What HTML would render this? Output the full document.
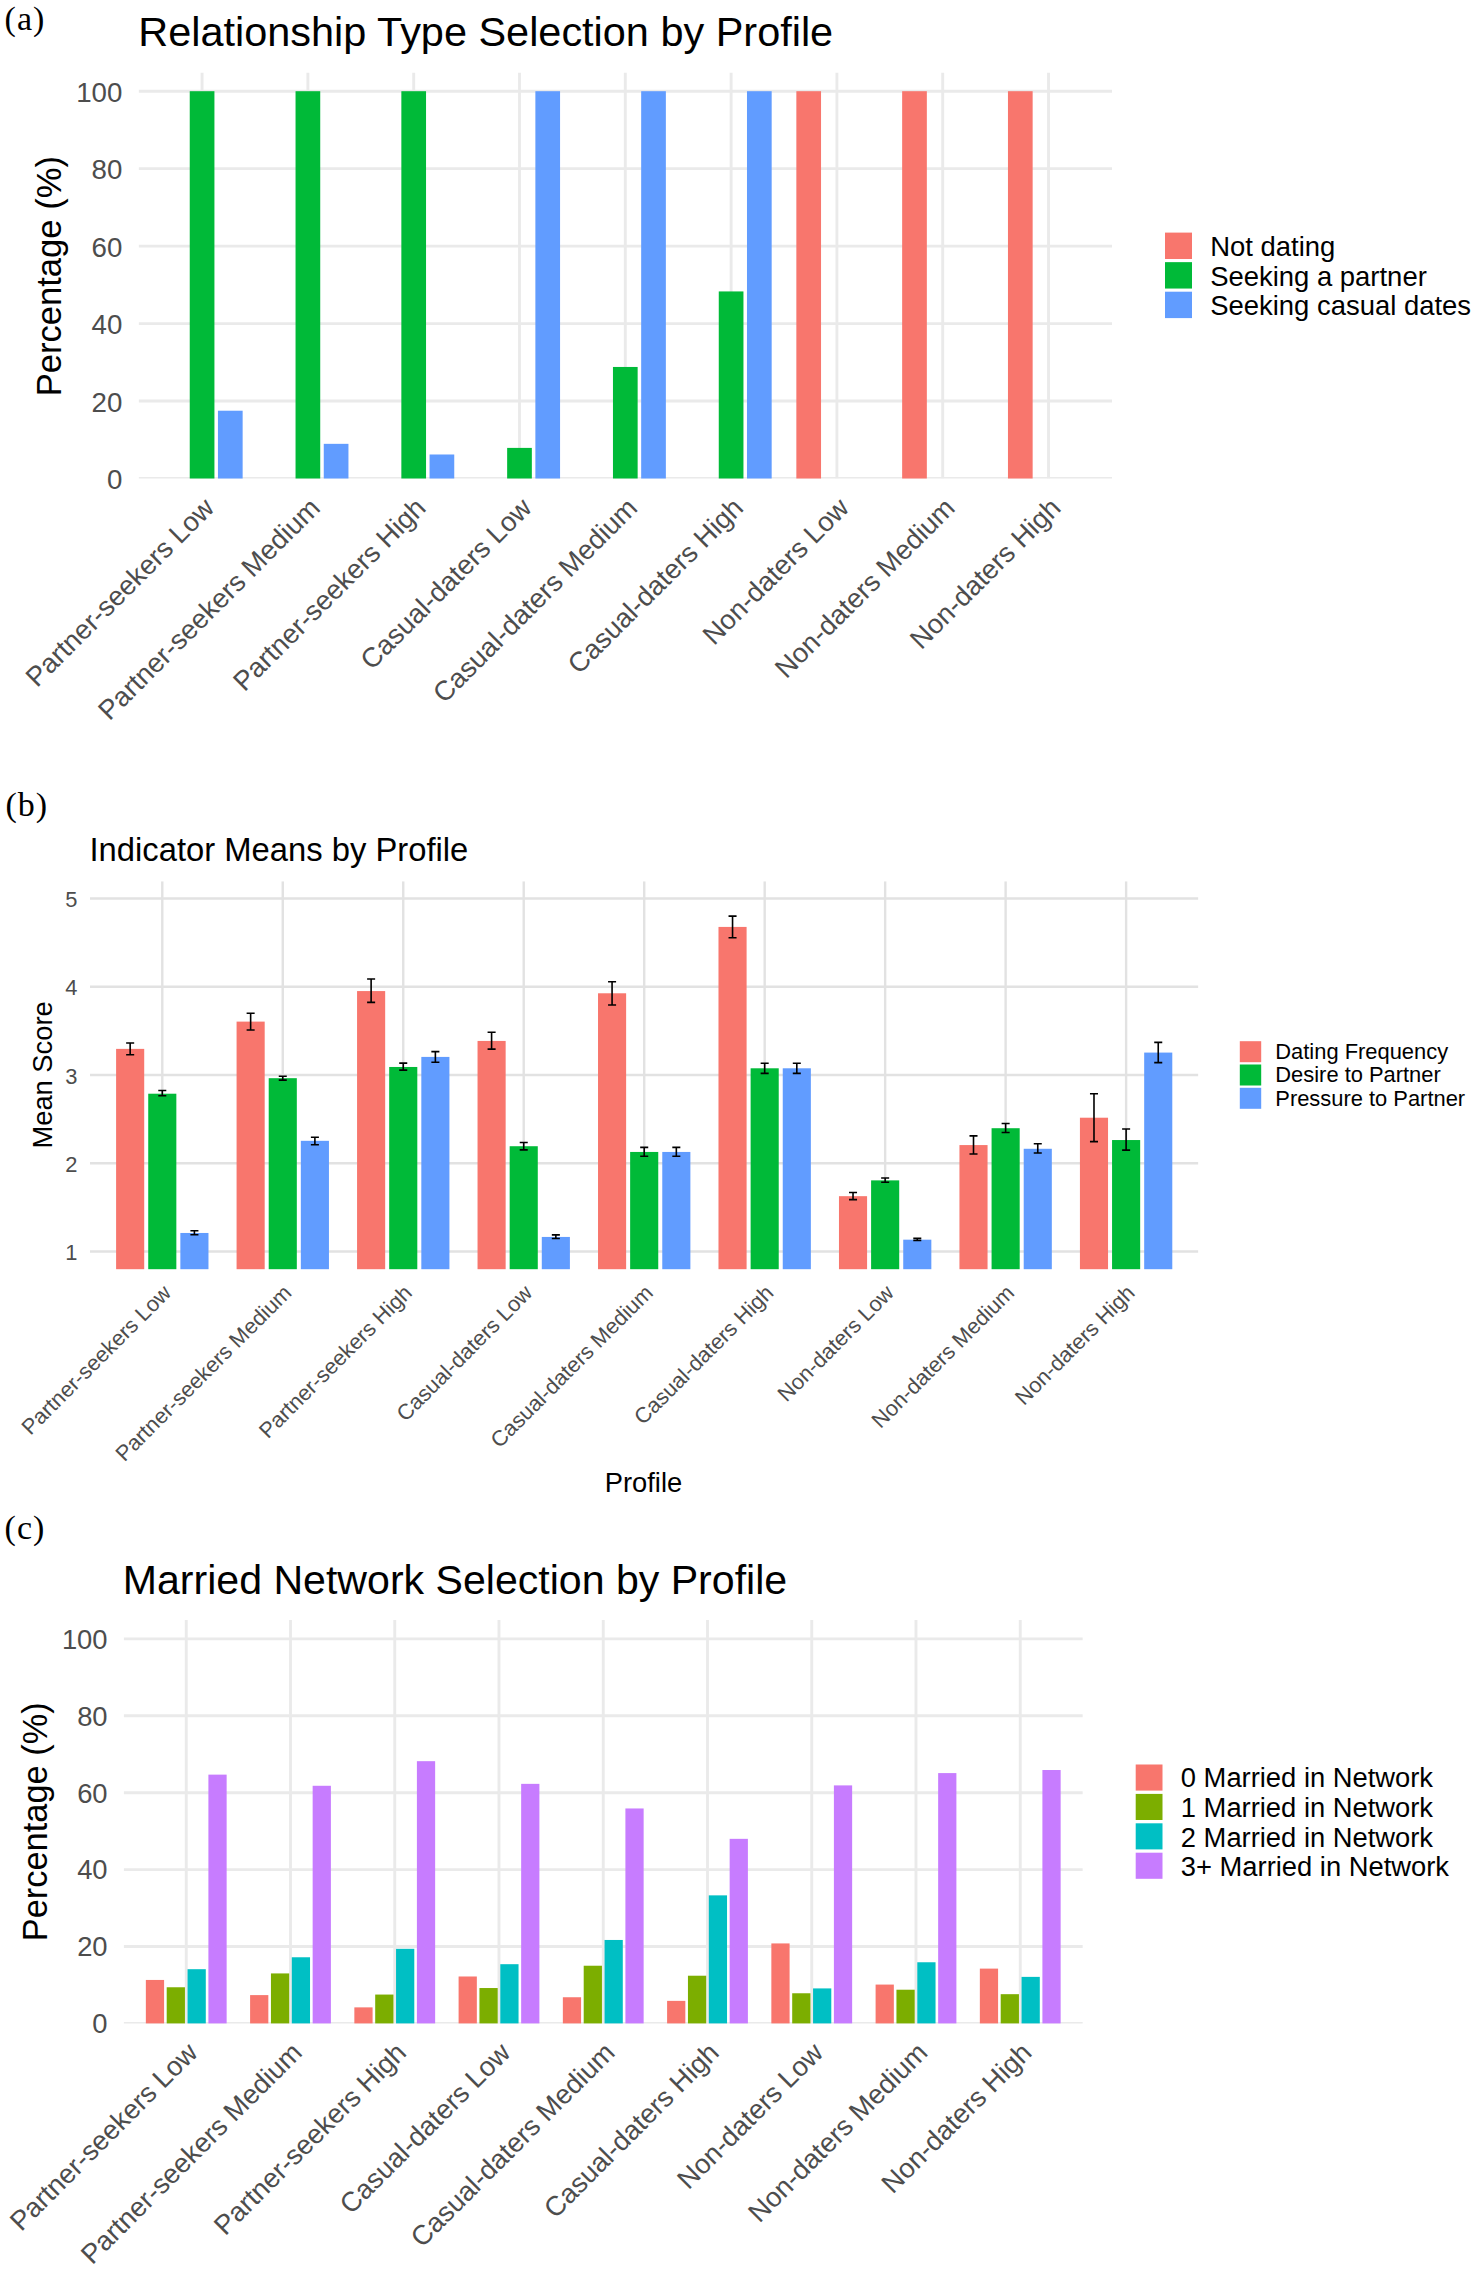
<!DOCTYPE html>
<html lang="en"><head><meta charset="utf-8"><title>Figure</title>
<style>html,body{margin:0;padding:0;background:#fff}svg{display:block}</style>
</head><body>
<svg width="1477" height="2270" viewBox="0 0 1477 2270" font-family="'Liberation Sans', sans-serif">
<rect width="1477" height="2270" fill="#fff"/>
<g font-family="'Liberation Serif', serif" font-size="34" letter-spacing="1" fill="#000">
<text x="4.6" y="29.6">(a)</text>
<text x="5.4" y="816.1">(b)</text>
<text x="4.6" y="1538.8">(c)</text>
</g>
<clipPath id="cpa"><rect x="138.6" y="72.4" width="973.4" height="406.1"/></clipPath>
<g stroke="#EAEAEA" stroke-width="2.9" fill="none" clip-path="url(#cpa)">
<path d="M138.6 478.5H1112"/>
<path d="M138.6 401.04H1112"/>
<path d="M138.6 323.58H1112"/>
<path d="M138.6 246.12H1112"/>
<path d="M138.6 168.66H1112"/>
<path d="M138.6 91.2H1112"/>
<path d="M202.08 72.4V478.5"/>
<path d="M307.89 72.4V478.5"/>
<path d="M413.69 72.4V478.5"/>
<path d="M519.5 72.4V478.5"/>
<path d="M625.3 72.4V478.5"/>
<path d="M731.1 72.4V478.5"/>
<path d="M836.91 72.4V478.5"/>
<path d="M942.71 72.4V478.5"/>
<path d="M1048.52 72.4V478.5"/>
</g>
<rect x="189.74" y="91.2" width="24.69" height="387.3" fill="#00BA38"/>
<rect x="217.95" y="410.72" width="24.69" height="67.78" fill="#619CFF"/>
<rect x="295.54" y="91.2" width="24.69" height="387.3" fill="#00BA38"/>
<rect x="323.76" y="443.84" width="24.69" height="34.66" fill="#619CFF"/>
<rect x="401.35" y="91.2" width="24.69" height="387.3" fill="#00BA38"/>
<rect x="429.56" y="454.49" width="24.69" height="24.01" fill="#619CFF"/>
<rect x="507.15" y="447.9" width="24.69" height="30.6" fill="#00BA38"/>
<rect x="535.37" y="91.2" width="24.69" height="387.3" fill="#619CFF"/>
<rect x="612.96" y="366.96" width="24.69" height="111.54" fill="#00BA38"/>
<rect x="641.17" y="91.2" width="24.69" height="387.3" fill="#619CFF"/>
<rect x="718.76" y="291.43" width="24.69" height="187.07" fill="#00BA38"/>
<rect x="746.98" y="91.2" width="24.69" height="387.3" fill="#619CFF"/>
<rect x="796.35" y="91.2" width="24.69" height="387.3" fill="#F8766D"/>
<rect x="902.15" y="91.2" width="24.69" height="387.3" fill="#F8766D"/>
<rect x="1007.96" y="91.2" width="24.69" height="387.3" fill="#F8766D"/>
<text x="138.3" y="46.3" font-size="41.45" fill="#000">Relationship Type Selection by Profile</text>
<g font-size="27.7" fill="#4D4D4D" text-anchor="end">
<text x="122.4" y="489">0</text>
<text x="122.4" y="411.54">20</text>
<text x="122.4" y="334.08">40</text>
<text x="122.4" y="256.62">60</text>
<text x="122.4" y="179.16">80</text>
<text x="122.4" y="101.7">100</text>
</g>
<g font-size="27.4" fill="#4D4D4D" text-anchor="end">
<text transform="translate(215.78 509.5) rotate(-45)">Partner-seekers Low</text>
<text transform="translate(321.59 509.5) rotate(-45)">Partner-seekers Medium</text>
<text transform="translate(427.39 509.5) rotate(-45)">Partner-seekers High</text>
<text transform="translate(533.2 509.5) rotate(-45)">Casual-daters Low</text>
<text transform="translate(639 509.5) rotate(-45)">Casual-daters Medium</text>
<text transform="translate(744.8 509.5) rotate(-45)">Casual-daters High</text>
<text transform="translate(850.61 509.5) rotate(-45)">Non-daters Low</text>
<text transform="translate(956.41 509.5) rotate(-45)">Non-daters Medium</text>
<text transform="translate(1062.22 509.5) rotate(-45)">Non-daters High</text>
</g>
<text transform="translate(61.1 276.2) rotate(-90)" text-anchor="middle" font-size="34.6" fill="#000">Percentage (%)</text>
<rect x="1165" y="232.6" width="27" height="26.4" fill="#F8766D"/>
<rect x="1165" y="262.15" width="27" height="26.4" fill="#00BA38"/>
<rect x="1165" y="291.7" width="27" height="26.4" fill="#619CFF"/>
<g font-size="27.45" fill="#000">
<text x="1210.2" y="256.2">Not dating</text>
<text x="1210.2" y="285.75">Seeking a partner</text>
<text x="1210.2" y="315.3">Seeking casual dates</text>
</g>
<clipPath id="cpb"><rect x="90" y="881.3" width="1108.4" height="387.9"/></clipPath>
<g stroke="#E2E2E2" stroke-width="2.4" fill="none" clip-path="url(#cpb)">
<path d="M90 1251.5H1198.4"/>
<path d="M90 1163.25H1198.4"/>
<path d="M90 1075H1198.4"/>
<path d="M90 986.75H1198.4"/>
<path d="M90 898.5H1198.4"/>
<path d="M162.29 881.3V1269.2"/>
<path d="M282.77 881.3V1269.2"/>
<path d="M403.24 881.3V1269.2"/>
<path d="M523.72 881.3V1269.2"/>
<path d="M644.2 881.3V1269.2"/>
<path d="M764.68 881.3V1269.2"/>
<path d="M885.16 881.3V1269.2"/>
<path d="M1005.63 881.3V1269.2"/>
<path d="M1126.11 881.3V1269.2"/>
</g>
<rect x="116.1" y="1048.88" width="28.11" height="220.32" fill="#F8766D"/>
<rect x="148.23" y="1093.71" width="28.11" height="175.49" fill="#00BA38"/>
<rect x="180.36" y="1232.97" width="28.11" height="36.23" fill="#619CFF"/>
<rect x="236.58" y="1021.61" width="28.11" height="247.59" fill="#F8766D"/>
<rect x="268.71" y="1078.18" width="28.11" height="191.02" fill="#00BA38"/>
<rect x="300.84" y="1140.83" width="28.11" height="128.37" fill="#619CFF"/>
<rect x="357.06" y="991.07" width="28.11" height="278.13" fill="#F8766D"/>
<rect x="389.19" y="1066.97" width="28.11" height="202.23" fill="#00BA38"/>
<rect x="421.32" y="1056.91" width="28.11" height="212.29" fill="#619CFF"/>
<rect x="477.54" y="1040.94" width="28.11" height="228.26" fill="#F8766D"/>
<rect x="509.67" y="1146.22" width="28.11" height="122.98" fill="#00BA38"/>
<rect x="541.79" y="1236.94" width="28.11" height="32.26" fill="#619CFF"/>
<rect x="598.02" y="993.28" width="28.11" height="275.92" fill="#F8766D"/>
<rect x="630.14" y="1151.95" width="28.11" height="117.25" fill="#00BA38"/>
<rect x="662.27" y="1151.95" width="28.11" height="117.25" fill="#619CFF"/>
<rect x="718.49" y="926.92" width="28.11" height="342.28" fill="#F8766D"/>
<rect x="750.62" y="1068.29" width="28.11" height="200.91" fill="#00BA38"/>
<rect x="782.75" y="1068.29" width="28.11" height="200.91" fill="#619CFF"/>
<rect x="838.97" y="1196.17" width="28.11" height="73.03" fill="#F8766D"/>
<rect x="871.1" y="1180.37" width="28.11" height="88.83" fill="#00BA38"/>
<rect x="903.23" y="1239.67" width="28.11" height="29.53" fill="#619CFF"/>
<rect x="959.45" y="1145.07" width="28.11" height="124.13" fill="#F8766D"/>
<rect x="991.58" y="1128.21" width="28.11" height="140.99" fill="#00BA38"/>
<rect x="1023.71" y="1148.78" width="28.11" height="120.42" fill="#619CFF"/>
<rect x="1079.93" y="1117.71" width="28.11" height="151.49" fill="#F8766D"/>
<rect x="1112.06" y="1140.04" width="28.11" height="129.16" fill="#00BA38"/>
<rect x="1144.18" y="1052.58" width="28.11" height="216.62" fill="#619CFF"/>
<g stroke="#000" stroke-width="1.6" fill="none">
<path d="M126.14 1042.97H134.18M130.16 1042.97V1054.79M126.14 1054.79H134.18"/>
<path d="M158.27 1090.44H166.3M162.29 1090.44V1095.74M158.27 1095.74H166.3"/>
<path d="M190.4 1230.76H198.43M194.41 1230.76V1234.73M190.4 1234.73H198.43"/>
<path d="M246.62 1013.23H254.65M250.64 1013.23V1029.99M246.62 1029.99H254.65"/>
<path d="M278.75 1076.32H286.78M282.77 1076.32V1080.12M278.75 1080.12H286.78"/>
<path d="M310.88 1137.22H318.91M314.89 1137.22V1144.72M310.88 1144.72H318.91"/>
<path d="M367.1 979.07H375.13M371.12 979.07V1002.37M367.1 1002.37H375.13"/>
<path d="M399.23 1063.09H407.26M403.24 1063.09V1070.15M399.23 1070.15H407.26"/>
<path d="M431.36 1051.61H439.39M435.37 1051.61V1062.2M431.36 1062.2H439.39"/>
<path d="M487.58 1032.29H495.61M491.59 1032.29V1049.14M487.58 1049.14H495.61"/>
<path d="M519.71 1142.51H527.74M523.72 1142.51V1149.84M519.71 1149.84H527.74"/>
<path d="M551.83 1234.91H559.87M555.85 1234.91V1238.44M551.83 1238.44H559.87"/>
<path d="M608.06 981.72H616.09M612.07 981.72V1005.02M608.06 1005.02H616.09"/>
<path d="M640.18 1147.37H648.22M644.2 1147.37V1156.19M640.18 1156.19H648.22"/>
<path d="M672.31 1147.37H680.34M676.33 1147.37V1156.19M672.31 1156.19H680.34"/>
<path d="M728.53 916.15H736.57M732.55 916.15V937.77M728.53 937.77H736.57"/>
<path d="M760.66 1063.26H768.69M764.68 1063.26V1073.41M760.66 1073.41H768.69"/>
<path d="M792.79 1063.26H800.82M796.81 1063.26V1073.41M792.79 1073.41H800.82"/>
<path d="M849.01 1192.46H857.04M853.03 1192.46V1199.61M849.01 1199.61H857.04"/>
<path d="M881.14 1177.99H889.17M885.16 1177.99V1182.22M881.14 1182.22H889.17"/>
<path d="M913.27 1238.35H921.3M917.28 1238.35V1240.47M913.27 1240.47H921.3"/>
<path d="M969.49 1135.89H977.52M973.51 1135.89V1154.07M969.49 1154.07H977.52"/>
<path d="M1001.62 1123.45H1009.65M1005.63 1123.45V1132.45M1001.62 1132.45H1009.65"/>
<path d="M1033.75 1143.75H1041.78M1037.76 1143.75V1153.01M1033.75 1153.01H1041.78"/>
<path d="M1089.97 1093.71H1098M1093.99 1093.71V1141.63M1089.97 1141.63H1098"/>
<path d="M1122.1 1129.01H1130.13M1126.11 1129.01V1150.1M1122.1 1150.1H1130.13"/>
<path d="M1154.22 1042.35H1162.26M1158.24 1042.35V1062.64M1154.22 1062.64H1162.26"/>
</g>
<text x="89.5" y="860.8" font-size="32.78" fill="#000">Indicator Means by Profile</text>
<g font-size="21.9" fill="#4D4D4D" text-anchor="end">
<text x="77.5" y="1260">1</text>
<text x="77.5" y="1171.75">2</text>
<text x="77.5" y="1083.5">3</text>
<text x="77.5" y="995.25">4</text>
<text x="77.5" y="907">5</text>
</g>
<g font-size="21.75" fill="#4D4D4D" text-anchor="end">
<text transform="translate(172.29 1294.2) rotate(-45)">Partner-seekers Low</text>
<text transform="translate(292.77 1294.2) rotate(-45)">Partner-seekers Medium</text>
<text transform="translate(413.24 1294.2) rotate(-45)">Partner-seekers High</text>
<text transform="translate(533.72 1294.2) rotate(-45)">Casual-daters Low</text>
<text transform="translate(654.2 1294.2) rotate(-45)">Casual-daters Medium</text>
<text transform="translate(774.68 1294.2) rotate(-45)">Casual-daters High</text>
<text transform="translate(895.16 1294.2) rotate(-45)">Non-daters Low</text>
<text transform="translate(1015.63 1294.2) rotate(-45)">Non-daters Medium</text>
<text transform="translate(1136.11 1294.2) rotate(-45)">Non-daters High</text>
</g>
<text transform="translate(52.4 1074.9) rotate(-90)" text-anchor="middle" font-size="27.3" fill="#000">Mean Score</text>
<text x="643.5" y="1491.7" text-anchor="middle" font-size="27.3" fill="#000">Profile</text>
<rect x="1239.8" y="1041.2" width="21.4" height="21" fill="#F8766D"/>
<rect x="1239.8" y="1064.5" width="21.4" height="21" fill="#00BA38"/>
<rect x="1239.8" y="1087.8" width="21.4" height="21" fill="#619CFF"/>
<g font-size="21.9" fill="#000">
<text x="1275.3" y="1058.5">Dating Frequency</text>
<text x="1275.3" y="1082.1">Desire to Partner</text>
<text x="1275.3" y="1105.7">Pressure to Partner</text>
</g>
<clipPath id="cpc"><rect x="123.7" y="1620" width="959.1" height="403.4"/></clipPath>
<g stroke="#EAEAEA" stroke-width="2.9" fill="none" clip-path="url(#cpc)">
<path d="M123.7 2023.4H1082.8"/>
<path d="M123.7 1946.5H1082.8"/>
<path d="M123.7 1869.6H1082.8"/>
<path d="M123.7 1792.7H1082.8"/>
<path d="M123.7 1715.8H1082.8"/>
<path d="M123.7 1638.9H1082.8"/>
<path d="M186.25 1620V2023.4"/>
<path d="M290.5 1620V2023.4"/>
<path d="M394.75 1620V2023.4"/>
<path d="M499 1620V2023.4"/>
<path d="M603.25 1620V2023.4"/>
<path d="M707.5 1620V2023.4"/>
<path d="M811.75 1620V2023.4"/>
<path d="M916 1620V2023.4"/>
<path d="M1020.25 1620V2023.4"/>
</g>
<rect x="145.85" y="1979.95" width="18.24" height="43.45" fill="#F8766D"/>
<rect x="166.7" y="1987.26" width="18.24" height="36.14" fill="#7CAE00"/>
<rect x="187.55" y="1969.19" width="18.24" height="54.21" fill="#00BFC4"/>
<rect x="208.4" y="1774.63" width="18.24" height="248.77" fill="#C77CFF"/>
<rect x="250.1" y="1995.1" width="18.24" height="28.3" fill="#F8766D"/>
<rect x="270.95" y="1973.42" width="18.24" height="49.98" fill="#7CAE00"/>
<rect x="291.8" y="1957.27" width="18.24" height="66.13" fill="#00BFC4"/>
<rect x="312.65" y="1785.78" width="18.24" height="237.62" fill="#C77CFF"/>
<rect x="354.35" y="2007.37" width="18.24" height="16.03" fill="#F8766D"/>
<rect x="375.2" y="1994.56" width="18.24" height="28.84" fill="#7CAE00"/>
<rect x="396.05" y="1948.81" width="18.24" height="74.59" fill="#00BFC4"/>
<rect x="416.9" y="1761.17" width="18.24" height="262.23" fill="#C77CFF"/>
<rect x="458.6" y="1976.49" width="18.24" height="46.91" fill="#F8766D"/>
<rect x="479.45" y="1988.03" width="18.24" height="35.37" fill="#7CAE00"/>
<rect x="500.3" y="1964.19" width="18.24" height="59.21" fill="#00BFC4"/>
<rect x="521.15" y="1783.86" width="18.24" height="239.54" fill="#C77CFF"/>
<rect x="562.85" y="1997.25" width="18.24" height="26.15" fill="#F8766D"/>
<rect x="583.7" y="1965.73" width="18.24" height="57.67" fill="#7CAE00"/>
<rect x="604.55" y="1939.96" width="18.24" height="83.44" fill="#00BFC4"/>
<rect x="625.4" y="1808.46" width="18.24" height="214.94" fill="#C77CFF"/>
<rect x="667.1" y="2000.87" width="18.24" height="22.53" fill="#F8766D"/>
<rect x="687.95" y="1975.72" width="18.24" height="47.68" fill="#7CAE00"/>
<rect x="708.8" y="1895.36" width="18.24" height="128.04" fill="#00BFC4"/>
<rect x="729.65" y="1838.84" width="18.24" height="184.56" fill="#C77CFF"/>
<rect x="771.35" y="1943.42" width="18.24" height="79.98" fill="#F8766D"/>
<rect x="792.2" y="1993.26" width="18.24" height="30.14" fill="#7CAE00"/>
<rect x="813.05" y="1988.41" width="18.24" height="34.99" fill="#00BFC4"/>
<rect x="833.9" y="1785.39" width="18.24" height="238.01" fill="#C77CFF"/>
<rect x="875.6" y="1984.57" width="18.24" height="38.83" fill="#F8766D"/>
<rect x="896.45" y="1989.72" width="18.24" height="33.68" fill="#7CAE00"/>
<rect x="917.3" y="1962.26" width="18.24" height="61.14" fill="#00BFC4"/>
<rect x="938.15" y="1773.09" width="18.24" height="250.31" fill="#C77CFF"/>
<rect x="979.85" y="1968.61" width="18.24" height="54.79" fill="#F8766D"/>
<rect x="1000.7" y="1994.18" width="18.24" height="29.22" fill="#7CAE00"/>
<rect x="1021.55" y="1976.88" width="18.24" height="46.52" fill="#00BFC4"/>
<rect x="1042.4" y="1770.01" width="18.24" height="253.39" fill="#C77CFF"/>
<text x="122.8" y="1594.1" font-size="41.08" fill="#000">Married Network Selection by Profile</text>
<g font-size="27.4" fill="#4D4D4D" text-anchor="end">
<text x="107.6" y="2033.2">0</text>
<text x="107.6" y="1956.3">20</text>
<text x="107.6" y="1879.4">40</text>
<text x="107.6" y="1802.5">60</text>
<text x="107.6" y="1725.6">80</text>
<text x="107.6" y="1648.7">100</text>
</g>
<g font-size="27.3" fill="#4D4D4D" text-anchor="end">
<text transform="translate(199.25 2054.2) rotate(-45)">Partner-seekers Low</text>
<text transform="translate(303.5 2054.2) rotate(-45)">Partner-seekers Medium</text>
<text transform="translate(407.75 2054.2) rotate(-45)">Partner-seekers High</text>
<text transform="translate(512 2054.2) rotate(-45)">Casual-daters Low</text>
<text transform="translate(616.25 2054.2) rotate(-45)">Casual-daters Medium</text>
<text transform="translate(720.5 2054.2) rotate(-45)">Casual-daters High</text>
<text transform="translate(824.75 2054.2) rotate(-45)">Non-daters Low</text>
<text transform="translate(929 2054.2) rotate(-45)">Non-daters Medium</text>
<text transform="translate(1033.25 2054.2) rotate(-45)">Non-daters High</text>
</g>
<text transform="translate(46.8 1821.8) rotate(-90)" text-anchor="middle" font-size="34.4" fill="#000">Percentage (%)</text>
<rect x="1135.7" y="1764.5" width="26.8" height="26.1" fill="#F8766D"/>
<rect x="1135.7" y="1793.9" width="26.8" height="26.1" fill="#7CAE00"/>
<rect x="1135.7" y="1823.3" width="26.8" height="26.1" fill="#00BFC4"/>
<rect x="1135.7" y="1852.7" width="26.8" height="26.1" fill="#C77CFF"/>
<g font-size="27.35" fill="#000">
<text x="1180.8" y="1787.2">0 Married in Network</text>
<text x="1180.8" y="1816.85">1 Married in Network</text>
<text x="1180.8" y="1846.5">2 Married in Network</text>
<text x="1180.8" y="1876.15">3+ Married in Network</text>
</g>
</svg>
</body></html>
